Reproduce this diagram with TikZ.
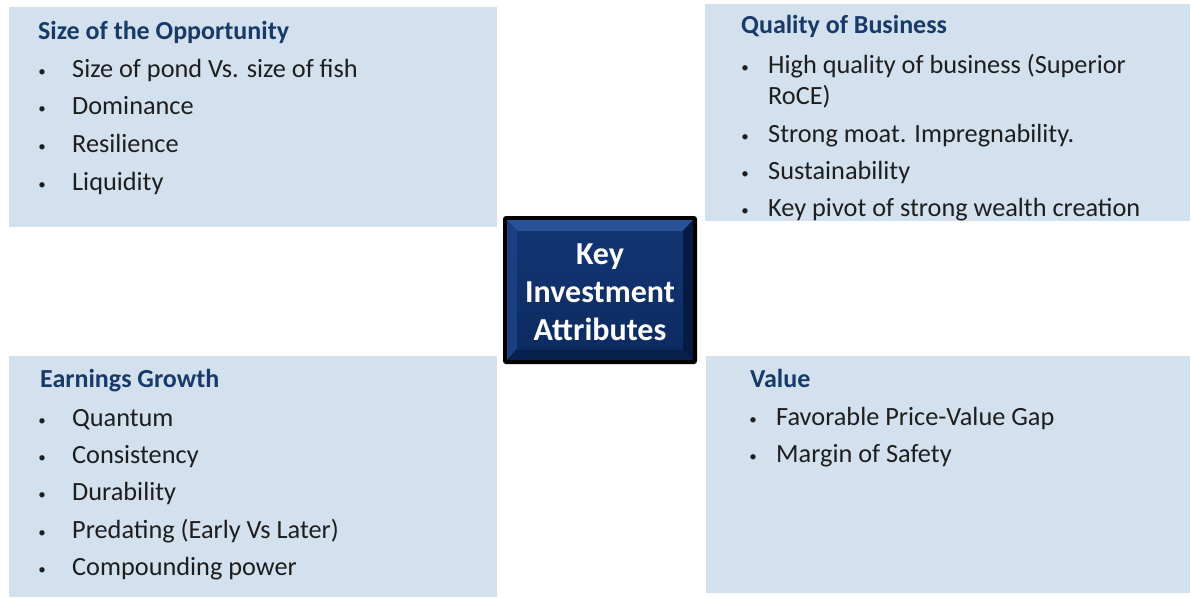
\documentclass[tikz,border=0pt]{standalone}
\usepackage{fontspec}
\setmainfont{Carlito}
\definecolor{panelfill}{RGB}{211,224,238}
\definecolor{titleblue}{RGB}{23,58,105}
\definecolor{bodytext}{RGB}{30,30,30}
\definecolor{navyface}{RGB}{14,48,108}
\definecolor{navytop}{RGB}{40,82,152}
\definecolor{navyleft}{RGB}{26,64,130}
\definecolor{navyright}{RGB}{6,26,66}
\definecolor{navybottom}{RGB}{8,32,78}
\begin{document}
\begin{tikzpicture}[x=1pt,y=-1pt,
  panel/.style={fill=panelfill, draw=none, anchor=north west, inner sep=0pt},
  ptitle/.style={anchor=base west, inner sep=0pt, text=titleblue, font=\fontsize{26}{31}\selectfont\bfseries},
  pitem/.style={anchor=base west, inner sep=0pt, text=bodytext, font=\fontsize{26.3}{31}\selectfont},
  pbullet/.style={anchor=base, inner sep=0pt, text=bodytext, font=\fontsize{15}{18}\selectfont}
]
\useasboundingbox (0,0) rectangle (1191,597);
\fill[white] (0,0) rectangle (1191,597);

% panels
\node[panel, minimum width=488pt, minimum height=220pt] (tl) at (9,7) {};
\node[panel, minimum width=485pt, minimum height=217pt] (tr) at (705,4) {};
\node[panel, minimum width=488pt, minimum height=241pt] (bl) at (9,356) {};
\node[panel, minimum width=484pt, minimum height=237pt] (br) at (706,356) {};

% top-left
\node[ptitle] (tlt) at (38,39) {Size of the Opportunity};
\foreach \y/\t [count=\i] in {77/Size of pond Vs. size of fish, 114/Dominance, 152/Resilience, 190/Liquidity}{
  \node[pbullet] (tlb\i) at (42,\y-1) {•};
  \node[pitem] (tli\i) at (72,\y) {\t};
}

% top-right
\node[ptitle] (trt) at (741,33) {Quality of Business};
\node[pbullet] (trb1) at (745,72) {•};
\node[pitem] (tri1) at (768,73) {High quality of business (Superior};
\node[pitem] (tri1b) at (768,104) {RoCE)};
\foreach \y/\t [count=\i from 2] in {142/Strong moat. Impregnability., 179/Sustainability, 216/Key pivot of strong wealth creation}{
  \node[pbullet] (trb\i) at (745,\y-1) {•};
  \node[pitem] (tri\i) at (768,\y) {\t};
}

% bottom-left
\node[ptitle] (blt) at (40,387) {Earnings Growth};
\foreach \y/\t [count=\i] in {426/Quantum, 463/Consistency, 500/Durability, 538/Predating (Early Vs Later), 575/Compounding power}{
  \node[pbullet] (blb\i) at (42,\y-1) {•};
  \node[pitem] (bli\i) at (72,\y) {\t};
}

% bottom-right
\node[ptitle] (brt) at (750,387) {Value};
\foreach \y/\t [count=\i] in {425/Favorable Price-Value Gap, 462/Margin of Safety}{
  \node[pbullet] (brb\i) at (753,\y-1) {•};
  \node[pitem] (bri\i) at (776,\y) {\t};
}

% center bevelled box
\fill[black, rounded corners=3pt] (503,216) rectangle (697,364);
\fill[navytop] (507,220) -- (693,220) -- (683,231) -- (517,231) -- cycle;
\fill[navyleft] (507,220) -- (517,231) -- (517,349) -- (507,360) -- cycle;
\fill[navyright] (693,220) -- (683,231) -- (683,349) -- (693,360) -- cycle;
\fill[navybottom] (507,360) -- (517,349) -- (683,349) -- (693,360) -- cycle;
\shade[top color=navyface!85!navytop, bottom color=navyface!90!black] (517,231) rectangle (683,349);
\node[inner sep=0pt, text=white, align=center, font=\fontsize{32}{38}\selectfont\bfseries] (key) at (600,292) {Key\\Investment\\Attributes};
\end{tikzpicture}
\end{document}
